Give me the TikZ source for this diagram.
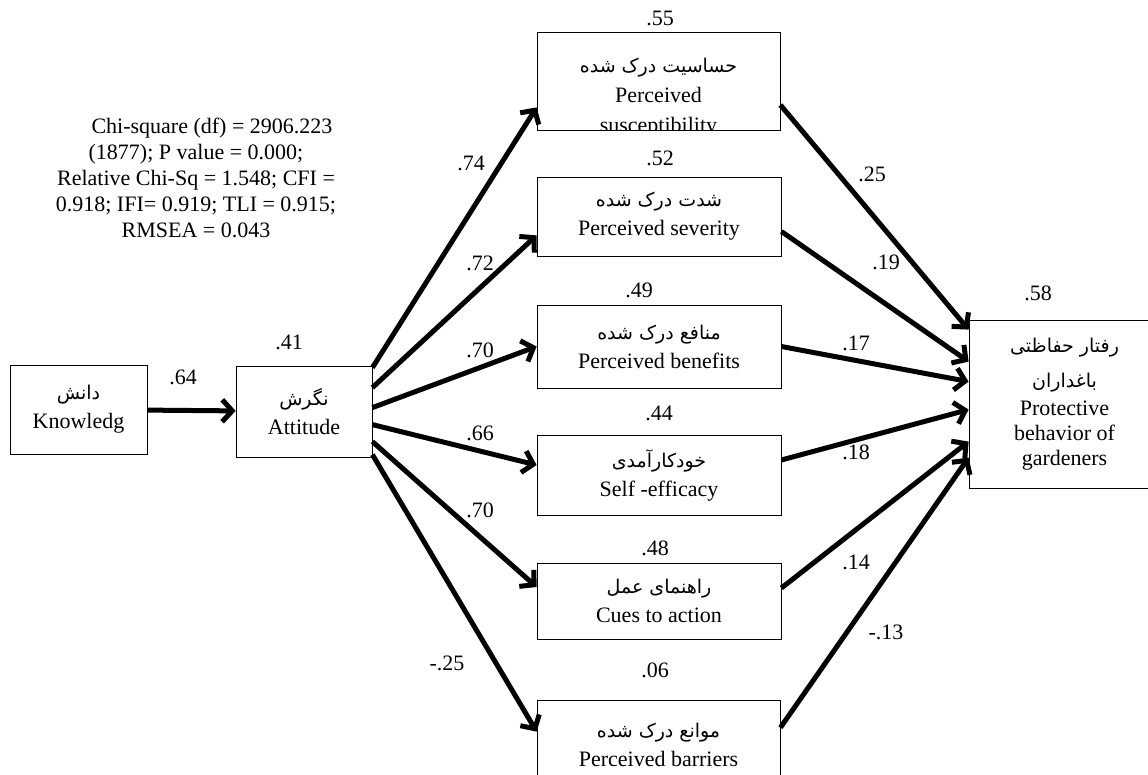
\documentclass[tikz,border=0pt]{standalone}
\usepackage{fontspec}
\setmainfont{Liberation Serif}
\newfontfamily\fa[Script=Arabic]{DejaVu Sans}
\TeXXeTstate=1
\usetikzlibrary{arrows.meta}
\newcommand{\fatext}[1]{{\fa\fontsize{19}{28}\selectfont\beginR #1\endR}}

\begin{document}
\begin{tikzpicture}[x=1pt,y=-1pt,n/.style={rectangle,draw,line width=0.8pt,align=center,font=\fontsize{22}{29}\selectfont,inner sep=0pt},e/.style={draw,line width=5pt,-{Straight Barb[length=10pt,width=22pt]}},t/.style={font=\fontsize{22}{26}\selectfont,inner sep=0pt}]
\clip (0,0) rectangle (1148,775);

% fit indices
\node[t, align=center] (fit) at (196,178) {\hspace*{32pt}Chi-square (df) = 2906.223\\(1877); P value = 0.000;\\Relative Chi-Sq = 1.548; CFI =\\0.918; IFI= 0.919; TLI = 0.915;\\RMSEA = 0.043};

% constructs
\node[n, minimum width=137pt, minimum height=89pt] (know) at (78.5,409.5) {\fatext{دانش}\\Knowledg};
\node[n, minimum width=136pt, minimum height=91pt] (att) at (304,411.5) {\fatext{نگرش}\\Attitude};
\node[n, minimum width=243pt, minimum height=98pt] (sus) at (658.5,81) {};
\begin{scope}
\clip (sus.south west) rectangle (sus.north east);
\node[n, draw=none, font=\fontsize{22}{30}\selectfont] (sustext) at (658.5,98) {\fatext{حساسیت درک شده}\\Perceived\\susceptibility};
\end{scope}
\node[n, minimum width=244pt, minimum height=79pt] (sev) at (659,216.5) {\fatext{شدت درک شده}\\Perceived severity};
\node[n, minimum width=244pt, minimum height=83pt] (ben) at (659,346.5) {\fatext{منافع درک شده}\\Perceived benefits};
\node[n, minimum width=244pt, minimum height=80pt] (eff) at (659,475) {\fatext{خودکارآمدی}\\Self -efficacy};
\node[n, minimum width=244pt, minimum height=76pt] (cue) at (659,601) {\fatext{راهنمای عمل}\\Cues to action};
\node[n, minimum width=243pt, minimum height=90pt] (bar) at (658.5,745) {\fatext{موانع درک شده}\\Perceived barriers};
\node[n, minimum width=191pt, minimum height=168pt, font=\fontsize{22}{25}\selectfont] (beh) at (1064.5,404) {\fatext{رفتار حفاظتی}\\[10pt]\fatext{باغداران}\\[3pt]Protective\\behavior of\\gardeners};

% explained variance
\node[t] (r2att) at (289,342) {.41};
\node[t] (r2sus) at (660,18) {.55};
\node[t] (r2sev) at (660,158) {.52};
\node[t] (r2ben) at (639,290) {.49};
\node[t] (r2eff) at (659,413) {.44};
\node[t] (r2cue) at (655,548) {.48};
\node[t] (r2bar) at (655,670) {.06};
\node[t] (r2beh) at (1038,293) {.58};

% paths
\path[e] (know) -- (att);
\path[e] ([yshift=-2pt]att.north east) -- ([yshift=23pt]sus.south west);
\path[e] ([yshift=-22pt]att.north east) -- ([yshift=21pt]sev.south west);
\path[e] ([yshift=-42pt]att.north east) -- (ben.west);
\path[e] ([yshift=-59pt]att.north east) -- ([yshift=10pt]eff.west);
\path[e] ([yshift=-76pt]att.north east) -- ([yshift=14pt]cue.west);
\path[e] ([yshift=-89pt]att.north east) -- ([yshift=-32pt]bar.north west);
\path[e] ([yshift=-24pt]sus.east) -- ([yshift=-10pt]beh.north west);
\path[e] ([yshift=-15pt]sev.east) -- ([yshift=-42pt]beh.north west);
\path[e] (ben.east) -- ([yshift=-62pt]beh.north west);
\path[e] ([yshift=15pt]eff.east) -- ([yshift=-90pt]beh.north west);
\path[e] ([yshift=13pt]cue.east) -- ([yshift=-122pt]beh.north west);
\path[e] ([yshift=-28pt]bar.north east) -- ([yshift=-138pt]beh.north west);

% path coefficients
\node[t] (wknow) at (183,377) {.64};
\node[t] (wsus) at (471,163) {.74};
\node[t] (wsev) at (480,263) {.72};
\node[t] (wben) at (480,350) {.70};
\node[t] (weff) at (480,433) {.66};
\node[t] (wcue) at (480,510) {.70};
\node[t] (wbar) at (447,663) {-.25};
\node[t] (vsus) at (872,174) {.25};
\node[t] (vsev) at (886,262) {.19};
\node[t] (vben) at (856,343) {.17};
\node[t] (veff) at (856,452) {.18};
\node[t] (vcue) at (856,562) {.14};
\node[t] (vbar) at (886,632) {-.13};

\end{tikzpicture}
\end{document}
